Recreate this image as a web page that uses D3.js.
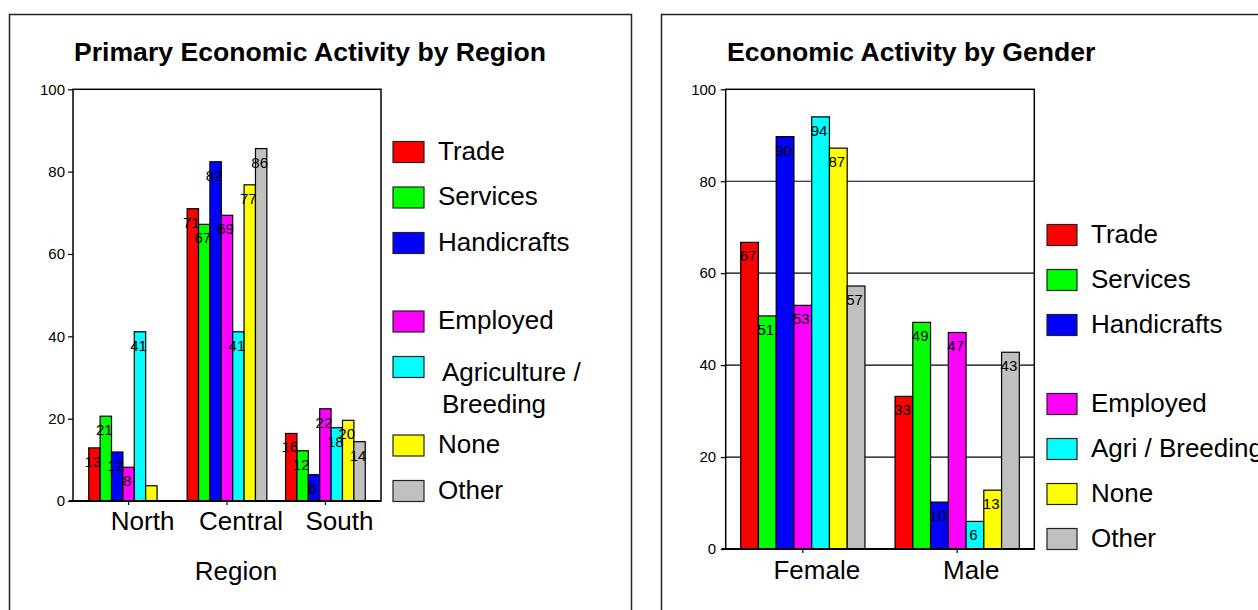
<!DOCTYPE html>
<html><head><meta charset="utf-8">
<script src="https://cdn.jsdelivr.net/npm/d3@7"></script>
<style>
body{margin:0;background:#fff}
svg{display:block}
text{font-family:"Liberation Sans",Arial,Helvetica,sans-serif;fill:#000}
</style></head>
<body><svg id="c" width="1258" height="610"></svg>
<script>
// ---- data ----
const activities = ["Trade","Services","Handicrafts","Employed","Agriculture / Breeding","None","Other"];
const leftLegendLabels = [["Trade"],["Services"],["Handicrafts"],["Employed"],["Agriculture /","Breeding"],["None"],["Other"]];
const rightLegendLabels = [["Trade"],["Services"],["Handicrafts"],["Employed"],["Agri / Breeding"],["None"],["Other"]];
const colors = ["#ff0000","#00ff00","#0000ff","#ff00ff","#00ffff","#ffff00","#c0c0c0"];
const regions = ["North","Central","South"];
const northValues = [12.9,20.6,11.9,8.2,41.1,3.7,0];
const centralValues = [71.0,67.2,82.4,69.4,41.1,76.8,85.6];
const southValues = [16.4,12.2,6.4,22.4,17.8,19.6,14.4];
const genders = ["Female","Male"];
const femaleValues = [66.7,50.7,89.7,53.0,94.0,87.2,57.2];
const maleValues = [33.2,49.3,10.2,47.1,6.0,12.8,42.8];
const yTicks = [0,20,40,60,80,100];
const leftTitle = "Primary Economic Activity by Region";
const rightTitle = "Economic Activity by Gender";
const leftAxisTitle = "Region";

const svg = d3.select("#c");
const color = d3.scaleOrdinal().domain(activities).range(colors);

// panel frames
svg.append("rect").attr("x",9.5).attr("y",14.5).attr("width",622).attr("height",700)
  .attr("fill","none").attr("stroke","#222").attr("stroke-width",1.5);
svg.append("rect").attr("x",661.5).attr("y",14.5).attr("width",700).attr("height",700)
  .attr("fill","none").attr("stroke","#222").attr("stroke-width",1.5);

function drawChart(cfg){
  const g = svg.append("g");
  const x0 = d3.scaleBand().domain(cfg.groups).range(cfg.xRange)
    .paddingInner(cfg.pi).paddingOuter(cfg.po);
  const x1 = d3.scaleBand().domain(activities).range([0,x0.bandwidth()]);
  const y = d3.scaleLinear().domain([0,100]).range(cfg.yRange);
  const [xl,xr] = cfg.xRange;

  if(cfg.grid){
    g.append("g").selectAll("line").data(yTicks.filter(t=>t>0&&t<100)).join("line")
      .attr("x1",xl).attr("x2",xr).attr("y1",d=>y(d)).attr("y2",d=>y(d))
      .attr("stroke","#000").attr("stroke-width",1.2);
  }

  const rows = cfg.groups.map((grp,i)=>({grp, vals: cfg.values[i]}));
  const grpG = g.append("g").selectAll("g").data(rows).join("g")
    .attr("transform",d=>`translate(${x0(d.grp)},0)`);
  grpG.selectAll("rect").data(d=>d.vals.map((v,j)=>({act:activities[j],v})))
    .join("rect")
    .attr("x",d=>x1(d.act)).attr("width",x1.bandwidth())
    .attr("y",d=>y(d.v)).attr("height",d=>y(0)-y(d.v))
    .attr("fill",d=>color(d.act)).attr("stroke","#000").attr("stroke-width",1.2);

  // plot frame
  g.append("rect").attr("x",xl).attr("y",y(100)).attr("width",xr-xl).attr("height",y(0)-y(100))
    .attr("fill","none").attr("stroke","#000").attr("stroke-width",1.5);

  // y axis
  const ya = g.append("g").attr("transform",`translate(${xl},0)`)
    .call(d3.axisLeft(y).tickValues(yTicks).tickSize(5).tickPadding(cfg.yPad).tickSizeOuter(0));
  ya.select(".domain").remove();
  ya.selectAll("line").attr("stroke","#000").attr("stroke-width",1.2);
  ya.selectAll("text").attr("font-size",15).attr("font-family","Liberation Sans, Arial, sans-serif");

  // x axis
  const xa = g.append("g").attr("transform",`translate(0,${y(0)})`)
    .call(d3.axisBottom(x0).tickSize(4).tickPadding(cfg.xPad).tickSizeOuter(0));
  xa.select(".domain").attr("d",`M${xl-4},0H${xr}`).attr("stroke","#000").attr("stroke-width",2);
  xa.selectAll("line").attr("stroke","#000").attr("stroke-width",1.2);
  xa.selectAll("text").attr("font-size",26).attr("dx",14)
    .attr("font-family","Liberation Sans, Arial, sans-serif");

  // data labels
  grpG.selectAll("text.lbl").data(d=>d.vals.map((v,j)=>({act:activities[j],v})).filter(d=>d.v>=5))
    .join("text").attr("class","lbl")
    .attr("x",d=>x1(d.act)+x1.bandwidth()/2-1.5)
    .attr("y",d=>y(d.v)+19)
    .attr("text-anchor","middle").attr("font-size",15)
    .text(d=>d3.format(".0f")(d.v));

  // title
  g.append("text").attr("x",cfg.titleX).attr("y",60.7)
    .attr("font-size",26.6).attr("font-weight","bold").text(cfg.title);

  if(cfg.axisTitle){
    g.append("text").attr("x",cfg.axisTitleX).attr("y",580).attr("text-anchor","middle")
      .attr("font-size",26).text(cfg.axisTitle);
  }

  // legend
  const lg = g.append("g");
  let yy = cfg.legY0;
  cfg.legendLabels.forEach((lines,i)=>{
    const cy = yy;
    lg.append("rect").attr("x",cfg.legX).attr("y",cy-10.5).attr("width",cfg.legW).attr("height",21)
      .attr("fill",colors[i]).attr("stroke","#222").attr("stroke-width",1.2);
    const t = lg.append("text").attr("x",cfg.legTextX).attr("font-size",26);
    if(lines.length===1){
      t.attr("y",cy+7.5).text(lines[0]);
    } else {
      lines.forEach((ln,k)=>{
        t.append("tspan").attr("x",cfg.legTextX+4).attr("y",cy+14+k*31.6).text(ln);
      });
    }
    yy += cfg.legStep + (i===2?cfg.legGap:0) + (lines.length>1?33:0);
  });
}

drawChart({
  groups: regions, values:[northValues,centralValues,southValues],
  xRange:[73,381], yRange:[501,89.3], pi:0.19, po:0.16, grid:false,
  yPad:3, xPad:6.5, title:leftTitle, titleX:74,
  axisTitle:leftAxisTitle, axisTitleX:236,
  legendLabels:leftLegendLabels, legX:393, legW:31, legTextX:438,
  legY0:152, legStep:45.5, legGap:33
});
drawChart({
  groups: genders, values:[femaleValues,maleValues],
  xRange:[725.7,1034.3], yRange:[549,89.3], pi:0.195, po:0.097, grid:true,
  yPad:4.5, xPad:7.5, title:rightTitle, titleX:727,
  axisTitle:null,
  legendLabels:rightLegendLabels, legX:1047, legW:30, legTextX:1091,
  legY0:235, legStep:45, legGap:34
});
</script></body></html>
